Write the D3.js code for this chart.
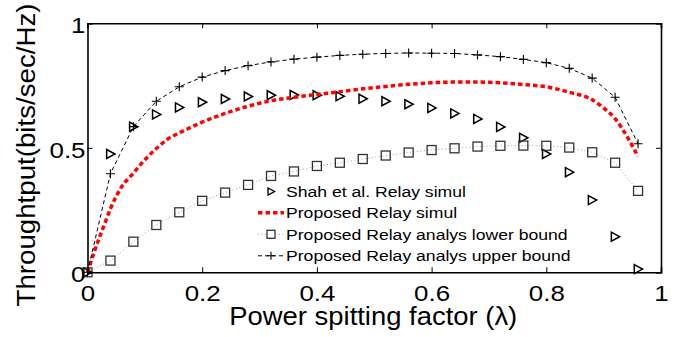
<!DOCTYPE html>
<html>
<head>
<meta charset="utf-8">
<script src="https://cdn.jsdelivr.net/npm/d3@7"></script>
<style>
  html, body { margin: 0; padding: 0; background: #fff; }
  svg { display: block; font-family: "Liberation Sans", Arial, Helvetica, sans-serif; }
</style>
</head>
<body>
<svg id="chart" width="684" height="337"></svg>
<script>
// ---- data ----
const lambda = [0, 0.04, 0.08, 0.12, 0.16, 0.20, 0.24, 0.28, 0.32, 0.36, 0.40, 0.44, 0.48,
                0.52, 0.56, 0.60, 0.64, 0.68, 0.72, 0.76, 0.80, 0.84, 0.88, 0.92, 0.96];
const shahSimul = [0, 0.475, 0.585, 0.634, 0.662, 0.683, 0.696, 0.706, 0.711, 0.712, 0.711, 0.707, 0.697,
                   0.687, 0.675, 0.660, 0.638, 0.616, 0.584, 0.540, 0.475, 0.402, 0.290, 0.143, 0.013];
const lowerBound = [0, 0.047, 0.123, 0.190, 0.241, 0.287, 0.320, 0.351, 0.387, 0.405, 0.427, 0.440, 0.455,
                    0.469, 0.481, 0.491, 0.498, 0.505, 0.508, 0.509, 0.508, 0.501, 0.482, 0.440, 0.327];
const upperBound = [0, 0.396, 0.585, 0.687, 0.745, 0.784, 0.810, 0.830, 0.845, 0.856, 0.864, 0.871, 0.876,
                    0.879, 0.881, 0.880, 0.879, 0.873, 0.866, 0.855, 0.842, 0.819, 0.780, 0.703, 0.516];
const propLambda = [0, 0.005, 0.01, 0.02, 0.03, 0.04, 0.05, 0.06, 0.08, 0.10, 0.12, 0.14, 0.16, 0.18, 0.20,
                    0.24, 0.28, 0.32, 0.36, 0.40, 0.44, 0.48, 0.52, 0.56, 0.60, 0.64, 0.68, 0.72, 0.76,
                    0.80, 0.84, 0.88, 0.90, 0.92, 0.94, 0.96];
const propSimul = [0, 0.035, 0.07, 0.135, 0.195, 0.255, 0.305, 0.345, 0.398, 0.452, 0.497, 0.535, 0.560, 0.582, 0.603,
                   0.638, 0.667, 0.689, 0.703, 0.714, 0.725, 0.737, 0.746, 0.755, 0.761, 0.764, 0.764, 0.761, 0.754,
                   0.745, 0.723, 0.693, 0.660, 0.617, 0.548, 0.465];
const xTicks = [0, 0.2, 0.4, 0.6, 0.8, 1];
const yTicks = [0, 0.5, 1];
const xTickLabels = ["0", "0.2", "0.4", "0.6", "0.8", "1"];
const yTickLabels = ["0", "0.5", "1"];
const legendLabels = ["Shah et al. Relay simul", "Proposed Relay simul",
                      "Proposed Relay analys lower bound", "Proposed Relay analys upper bound"];
const xTitle = "Power spitting factor (\u03BB)";
const yTitle = "Throughtput(bits/sec/Hz)";

// ---- layout ----
const L = 87.5, R = 661, T = 23.3, B = 272.3;
const svg = d3.select("#chart");
const x = d3.scaleLinear().domain([0, 1]).range([L, R]);
const y = d3.scaleLinear().domain([0, 1]).range([B, T]);

// widen text horizontally (the reference font renders wider than Arial)
function widen(sel, f) {
  sel.each(function () {
    const w = this.getComputedTextLength();
    d3.select(this).attr("textLength", w * f).attr("lengthAdjust", "spacingAndGlyphs");
  });
}

// ---- series ----
const zipped = (xs, ys) => xs.map((v, i) => [v, ys[i]]);

const triPath = s => `M${-s*0.42},${-s/2}L${s*0.5},0L${-s*0.42},${s/2}Z`;
svg.append("g").selectAll("path").data(zipped(lambda, shahSimul)).join("path")
  .attr("transform", d => `translate(${x(d[0])},${y(d[1])})`)
  .attr("d", triPath(9))
  .attr("fill", "none").attr("stroke", "#000").attr("stroke-width", 1.5);

svg.append("path").datum(zipped(propLambda, propSimul))
  .attr("d", d3.line().x(d => x(d[0])).y(d => y(d[1])).curve(d3.curveMonotoneX))
  .attr("fill", "none").attr("stroke", "#ff0000").attr("stroke-width", 3.5)
  .attr("stroke-dasharray", "4.5,3");

svg.append("path").datum(zipped(lambda, lowerBound))
  .attr("d", d3.line().x(d => x(d[0])).y(d => y(d[1])))
  .attr("fill", "none").attr("stroke", "#a0a0a0").attr("stroke-width", 1)
  .attr("stroke-dasharray", "1,2.5");
svg.append("g").selectAll("rect").data(zipped(lambda, lowerBound)).join("rect")
  .attr("x", d => x(d[0]) - 4.5).attr("y", d => y(d[1]) - 4.5)
  .attr("width", 9).attr("height", 9)
  .attr("fill", "none").attr("stroke", "#333").attr("stroke-width", 1.3);

svg.append("path").datum(zipped(lambda, upperBound))
  .attr("d", d3.line().x(d => x(d[0])).y(d => y(d[1])))
  .attr("fill", "none").attr("stroke", "#000").attr("stroke-width", 1)
  .attr("stroke-dasharray", "4,3");
const plusPath = s => `M${-s/2},0H${s/2}M0,${-s/2}V${s/2}`;
svg.append("g").selectAll("path").data(zipped(lambda, upperBound)).join("path")
  .attr("transform", d => `translate(${x(d[0])},${y(d[1])})`)
  .attr("d", plusPath(9))
  .attr("fill", "none").attr("stroke", "#000").attr("stroke-width", 1.1);

// ---- axes box ----
const tl = 5;
const axB = svg.append("g").attr("transform", `translate(0,${B})`)
  .call(d3.axisBottom(x).tickValues(xTicks).tickSize(-tl).tickFormat((d, i) => xTickLabels[i]).tickPadding(0));
const axT = svg.append("g").attr("transform", `translate(0,${T})`)
  .call(d3.axisTop(x).tickValues(xTicks).tickSize(-tl).tickFormat(""));
const axL = svg.append("g").attr("transform", `translate(${L},0)`)
  .call(d3.axisLeft(y).tickValues(yTicks).tickSize(-tl).tickFormat((d, i) => yTickLabels[i]));
const axR = svg.append("g").attr("transform", `translate(${R},0)`)
  .call(d3.axisRight(y).tickValues(yTicks).tickSize(-tl).tickFormat(""));
[axB, axT, axL, axR].forEach(g => {
  g.select(".domain").attr("stroke", "#000").attr("stroke-width", 1.6);
  g.selectAll(".tick line").attr("stroke", "#000").attr("stroke-width", 1);
});
axB.selectAll(".tick text")
  .attr("font-size", 22.5).attr("fill", "#000").attr("font-family", "Liberation Sans, Arial, sans-serif")
  .attr("dy", null).attr("y", 28.6);
axL.selectAll(".tick text")
  .attr("font-size", 22.5).attr("fill", "#000").attr("font-family", "Liberation Sans, Arial, sans-serif")
  .attr("dy", null).attr("x", -2).attr("y", 9.5);
widen(axB.selectAll(".tick text"), 1.15);
widen(axL.selectAll(".tick text"), 1.15);
axB.select(".domain").raise();

// ---- titles ----
const xt = svg.append("text").attr("x", (L + R) / 2 - 1).attr("y", 324.7)
  .attr("text-anchor", "middle").attr("font-size", 25.6).text(xTitle);
xt.attr("textLength", 288).attr("lengthAdjust", "spacingAndGlyphs");
const yt = svg.append("text").attr("transform", `translate(35,155) rotate(-90)`)
  .attr("text-anchor", "middle").attr("font-size", 26.5).text(yTitle);
yt.attr("textLength", 303).attr("lengthAdjust", "spacingAndGlyphs");

// ---- legend ----
const lgX0 = 258, lgX1 = 284, lgTx = 286;
const lgY = [191.5, 212.8, 234.3, 255.8];
const lg = svg.append("g");
lg.append("path").attr("transform", `translate(${(lgX0 + lgX1) / 2},${lgY[0]})`)
  .attr("d", triPath(7)).attr("fill", "none").attr("stroke", "#000").attr("stroke-width", 1.4);
lg.append("line").attr("x1", lgX0).attr("x2", lgX1).attr("y1", lgY[1]).attr("y2", lgY[1])
  .attr("stroke", "#ff0000").attr("stroke-width", 3.5).attr("stroke-dasharray", "4.5,3");
lg.append("line").attr("x1", lgX0).attr("x2", lgX1).attr("y1", lgY[2]).attr("y2", lgY[2])
  .attr("stroke", "#a0a0a0").attr("stroke-width", 1).attr("stroke-dasharray", "1,2.5");
lg.append("rect").attr("x", (lgX0 + lgX1) / 2 - 4).attr("y", lgY[2] - 4).attr("width", 8).attr("height", 8)
  .attr("fill", "#fff").attr("stroke", "#333").attr("stroke-width", 1.3);
lg.append("line").attr("x1", lgX0).attr("x2", lgX1).attr("y1", lgY[3]).attr("y2", lgY[3])
  .attr("stroke", "#000").attr("stroke-width", 1).attr("stroke-dasharray", "4,3");
lg.append("path").attr("transform", `translate(${(lgX0 + lgX1) / 2},${lgY[3]})`)
  .attr("d", plusPath(8)).attr("fill", "none").attr("stroke", "#000").attr("stroke-width", 1.1);
const lgText = lg.selectAll("text.lt").data(legendLabels).join("text").attr("class", "lt")
  .attr("x", lgTx).attr("y", (d, i) => lgY[i] + 5.5)
  .attr("font-size", 15.5).attr("fill", "#000").text(d => d);
widen(lgText, 1.135);
</script>
</body>
</html>
